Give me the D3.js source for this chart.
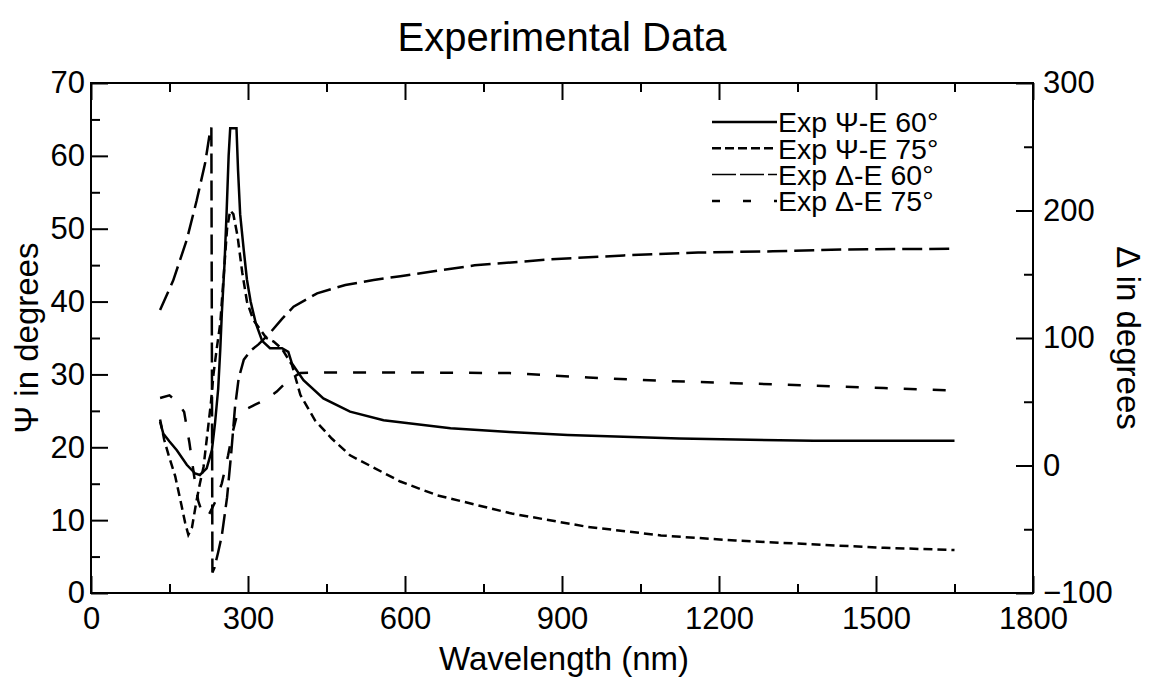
<!DOCTYPE html>
<html>
<head>
<meta charset="utf-8">
<script src="https://cdn.jsdelivr.net/npm/d3@7"></script>
<style>
  body { margin: 0; background: #fff; }
  svg text { font-family: Arial, "Liberation Sans", sans-serif; fill: #000; }
</style>
</head>
<body>
<script>
// wavelength (nm), value pairs
var psi60 = [[132,23.5],[138,21.9],[150,20.8],[164,19.6],[183,17.6],[199,16.4],[208,16.2],[221,17.1],[231,19.6],
  [237,23.3],[243,28],[247,33.4],[250,38.4],[255,45],[259,52],[263,60],[266,63.8],[278,63.8],[281,58],[285,52],
  [292,47],[298,43],[305,40],[315,37],[327,34.6],[342,33.6],[365,33.6],[377,33.1],[384,31.5],[406,29.2],[444,26.7],
  [495,24.9],[559,23.7],[687,22.6],[800,22.1],[911,21.7],[1124,21.2],[1381,20.9],[1650,20.9]]

var psi75 = [[132,23.8],[140,21],[148,19],[161,16],[173,12],[180,9.6],[186,8],[193,9],[201,12.4],[208,15],[215,17.3],
  [221,21],[229,26],[234,30],[240,33.4],[247,37],[254,44],[260,50],[266,52.5],[272,52],[280,49],[289,44],[298,40],
  [310,37.5],[320,36.5],[335,35],[349,34.5],[365,33.5],[384,31.3],[400,27.2],[428,23.7],[460,21.2],[495,18.9],
  [591,15.3],[662,13.4],[804,10.9],[947,9.1],[1089,7.9],[1231,7.2],[1374,6.7],[1516,6.2],[1650,5.9]]

var delta60 = [[132,122],[157,145],[183,177],[202,208],[218,237],[226,258],[230,265],[232,-84],[236,-80],[243,-68],
  [250,-55],[260,-25],[268,10],[275,45],[282,68],[292,83],[305,90],[320,95],[342,104],[365,115],[387,124.5],
  [432,135],[486,141.6],[540,145.5],[591,148.5],[733,157],[876,161.6],[1018,164.8],[1160,167],[1303,168],
  [1445,169.5],[1650,170]]

var delta75 = [[132,53],[150,55],[165,50],[178,42],[188,18],[197,-8],[205,-28],[215,-40],[226,-38],[238,-28],
  [250,-14],[262,8],[270,25],[278,38],[290,43],[310,47],[335,52],[355,58],[372,65],[385,69],[400,72.5],[450,73],
  [600,73],[800,72.5],[950,69],[1090,66.4],[1230,64.6],[1375,62.8],[1515,60.7],[1650,58.8]]

var legendNames = ["Exp \u03A8-E 60\u00B0", "Exp \u03A8-E 75\u00B0", "Exp \u0394-E 60\u00B0", "Exp \u0394-E 75\u00B0"]
var xTicks = [0, 300, 600, 900, 1200, 1500, 1800]
var psiTicks = [0, 10, 20, 30, 40, 50, 60, 70]
var deltaTicks = [-100, 0, 100, 200, 300]

var width = 1153, height = 682
var padL = 91, padR = 1033, padT = 83, padB = 593

var svg = d3.select("body").append("svg")
  .attr("width", width)
  .attr("height", height)

var x = d3.scaleLinear().domain([0, 1800]).range([padL, padR])
var yPsi = d3.scaleLinear().domain([0, 70]).range([padB, padT])
var yDelta = d3.scaleLinear().domain([-100, 300]).range([padB, padT])

//////////////////////////////// axes
var styleAxis = function(g) {
  g.select(".domain").remove()
  g.selectAll(".tick line").attr("stroke", "#000").attr("stroke-width", 2)
  g.selectAll("text").style("font-size", "31px").attr("fill", "#000")
}

var minorX = d3.range(150, 1800, 300)
var minorPsi = d3.range(5, 70, 10)
var minorDelta = d3.range(-50, 300, 100)
var fmt = d3.format("d")

svg.append("g").attr("transform", "translate(0," + padB + ")")
  .call(d3.axisBottom(x).tickValues(xTicks).tickSize(-17).tickPadding(14).tickFormat(fmt))
  .call(styleAxis)
svg.append("g").attr("transform", "translate(0," + padB + ")")
  .call(d3.axisBottom(x).tickValues(minorX).tickSize(-9).tickFormat(""))
  .call(styleAxis)
svg.append("g").attr("transform", "translate(0," + padT + ")")
  .call(d3.axisTop(x).tickValues(xTicks).tickSize(-17).tickFormat(""))
  .call(styleAxis)
svg.append("g").attr("transform", "translate(0," + padT + ")")
  .call(d3.axisTop(x).tickValues(minorX).tickSize(-9).tickFormat(""))
  .call(styleAxis)

svg.append("g").attr("transform", "translate(" + padL + ",0)")
  .call(d3.axisLeft(yPsi).tickValues(psiTicks).tickSize(-17).tickPadding(6).tickFormat(fmt))
  .call(styleAxis)
svg.append("g").attr("transform", "translate(" + padL + ",0)")
  .call(d3.axisLeft(yPsi).tickValues(minorPsi).tickSize(-9).tickFormat(""))
  .call(styleAxis)

svg.append("g").attr("transform", "translate(" + padR + ",0)")
  .call(d3.axisRight(yDelta).tickValues(deltaTicks).tickSize(-17).tickPadding(10).tickFormat(fmt))
  .call(styleAxis)
svg.append("g").attr("transform", "translate(" + padR + ",0)")
  .call(d3.axisRight(yDelta).tickValues(minorDelta).tickSize(-9).tickFormat(""))
  .call(styleAxis)

svg.append("rect")
  .attr("x", padL).attr("y", padT)
  .attr("width", padR - padL).attr("height", padB - padT)
  .attr("fill", "none").attr("stroke", "#000").attr("stroke-width", 2)

//////////////////////////////// curves
var series = [
  {data: psi60, y: yPsi, dash: null},
  {data: psi75, y: yPsi, dash: "9,5"},
  {data: delta60, y: yDelta, dash: "20,7"},
  {data: delta75, y: yDelta, dash: "13,16"}
]
var legendDash = [null, "9,4", "24,4", "8,23"]

series.forEach(function(s) {
  var line = d3.line()
    .x(function(d) { return x(d[0]); })
    .y(function(d) { return s.y(d[1]); })
  svg.append("path")
    .datum(s.data)
    .attr("d", line)
    .attr("fill", "none")
    .attr("stroke", "#000")
    .attr("stroke-width", 2.5)
    .attr("stroke-dasharray", s.dash)
})

//////////////////////////////// legend
var legend = svg.append("g")
  .selectAll("g")
  .data(legendNames)
  .enter()
  .append("g")
  .attr("transform", function(d, i) { return "translate(712," + (122 + i * 26.3) + ")"; })
legend.append("line")
  .attr("x1", 0).attr("x2", 65)
  .attr("stroke", "#000")
  .attr("stroke-width", function(d, i) { return i == 2 ? 1.5 : 2.5; })
  .attr("stroke-dasharray", function(d, i) { return legendDash[i]; })
legend.append("text")
  .attr("x", 66)
  .attr("dy", "0.36em")
  .style("font-size", "28.5px")
  .text(function(d) { return d; })

//////////////////////////////// titles
svg.append("text")
  .attr("x", 562).attr("y", 51)
  .attr("text-anchor", "middle")
  .style("font-size", "40px")
  .text("Experimental Data")
svg.append("text")
  .attr("x", 564).attr("y", 670)
  .attr("text-anchor", "middle")
  .style("font-size", "33px")
  .text("Wavelength (nm)")
svg.append("text")
  .attr("transform", "translate(38," + (padT + padB) / 2 + ") rotate(-90)")
  .attr("text-anchor", "middle")
  .style("font-size", "33px")
  .text("\u03A8 in degrees")
svg.append("text")
  .attr("transform", "translate(1117," + (padT + padB) / 2 + ") rotate(90)")
  .attr("text-anchor", "middle")
  .style("font-size", "33px")
  .text("\u0394 in degrees")
</script>
</body>
</html>
